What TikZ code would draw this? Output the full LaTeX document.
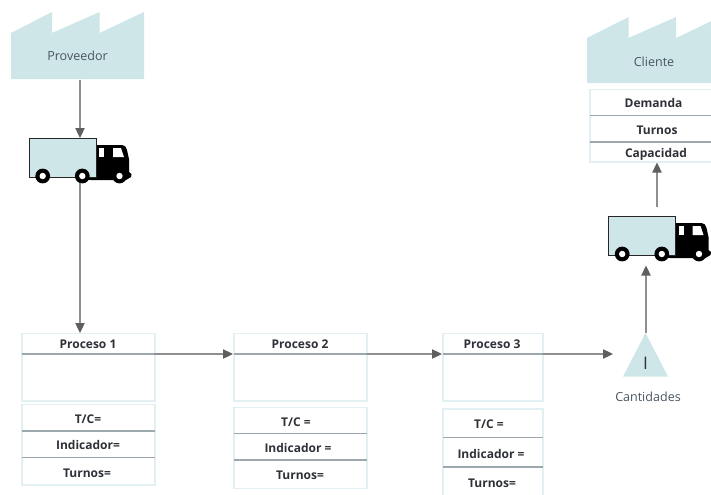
\documentclass[tikz,border=0pt]{standalone}
\usepackage{fontspec}
\setmainfont{Open Sans}
\usetikzlibrary{arrows.meta}
\definecolor{fillblue}{HTML}{CEE6E8}
\definecolor{edgeblue}{HTML}{E3F0F3}
\definecolor{rowline}{HTML}{9DA8AE}
\definecolor{arrowgray}{HTML}{5F5F5F}
\definecolor{labelgray}{HTML}{4A5560}
\definecolor{boldtext}{HTML}{2E3238}
\tikzset{
  x=0.75pt,y=-0.75pt,
  factory/.style={fill=fillblue,draw=none},
  boxframe/.style={draw=edgeblue,line width=0.9pt,fill=white},
  rowrule/.style={draw=rowline,line width=0.8pt},
  link/.style={draw=arrowgray!70,line width=0.8pt,-{Triangle[length=7.5pt,width=7pt,color=arrowgray]}},
  plainlabel/.style={font=\fontsize{9.4pt}{11pt}\selectfont,text=labelgray,inner sep=0pt,text height=6.8pt,text depth=0pt},
  rowlabel/.style={font=\fontsize{9pt}{11pt}\selectfont\bfseries,text=boldtext,inner sep=0pt,text height=6.5pt,text depth=0pt,yshift=-0.4pt},
  pics/truck/.style={code={
    % cab
    \fill[black] (67,7) -- (93,7) .. controls (96,7) and (97,9) .. (98,12) -- (100,21) -- (100,34) -- (102.5,36) -- (102,39) -- (97,42) -- (62,42) -- (50,41) -- (67,37) -- cycle;
    \fill[white] (70,10) rectangle (75,19);
    \fill[white] (84,10) -- (92,10) -- (95,19) -- (84,19) -- cycle;
    % box
    \draw[fill=fillblue,draw=black!85,line width=0.7pt] (0,0) rectangle (67,39);
    % wheels
    \foreach \wx in {13.7,53.3,90.5}{
      \fill[black] (\wx,38) circle[radius=7.4];
      \fill[white] (\wx,38) circle[radius=3.2];
    }
  }}
}
\begin{document}
\begin{tikzpicture}
\useasboundingbox (0,0) rectangle (711,494);
\clip (0,0) rectangle (711,494);
% factories
\fill[factory] (11,79) -- (11,33) -- (52,12) -- (52,33) -- (99.5,12) -- (99.5,33) -- (144,12) -- (144,79) -- cycle;
\node[plainlabel] (prov) at (77.5,56) {Proveedor};
\coordinate (provbottom) at (80,79.5);
\fill[factory] (587,83) -- (587,38) -- (628.5,17) -- (628.5,38) -- (676,17) -- (676,38) -- (720,17) -- (720,83) -- cycle;
\node[plainlabel] (cli) at (654,61.5) {Cliente};
% client table
\draw[boxframe] (590,89.5) rectangle (720,162);
\draw[rowrule] (590,115.5) -- (720,115.5);
\draw[rowrule] (590,142) -- (720,142);
\node[rowlabel] (dem) at (653.5,103) {Demanda};
\node[rowlabel] (tur) at (657,129.5) {Turnos};
\node[rowlabel] (cap) at (656,153) {Capacidad};
\coordinate (captop) at (657,162.5);
\coordinate (capfoot) at (657,207);
% trucks
\pic at (29,138) {truck};
\coordinate (t1top) at (80,138);
\coordinate (t1bot) at (80,183);
\pic at (608.5,216) {truck};
\coordinate (t2bot) at (646,265.5);
% process 1
\draw[boxframe] (22,333.5) rectangle (155,401);
\draw[rowrule] (22,354) -- (155,354);
\node[rowlabel] (p1) at (88,344) {Proceso 1};
\draw[boxframe] (22,404.5) rectangle (155,485);
\draw[rowrule] (22,431) -- (155,431);
\draw[rowrule] (22,457.5) -- (155,457.5);
\node[rowlabel] (p1a) at (88,418.5) {T/C=};
\node[rowlabel] (p1b) at (88,445) {Indicador=};
\node[rowlabel] (p1c) at (87,472.5) {Turnos=};
\coordinate (p1top) at (80,333);
\coordinate (p1r) at (154,354);
% process 2
\draw[boxframe] (234,333.5) rectangle (367,401);
\draw[rowrule] (234,354) -- (367,354);
\node[rowlabel] (p2) at (300,344) {Proceso 2};
\draw[boxframe] (234,407.5) rectangle (367,488.5);
\draw[rowrule] (234,433.5) -- (367,433.5);
\draw[rowrule] (234,460) -- (367,460);
\node[rowlabel] (p2a) at (296,421.5) {T/C =};
\node[rowlabel] (p2b) at (298,448) {Indicador =};
\node[rowlabel] (p2c) at (300,475) {Turnos=};
\coordinate (p2l) at (233,354);
\coordinate (p2r) at (367,354);
% process 3
\draw[boxframe] (443,333.5) rectangle (543,401);
\draw[rowrule] (443,354) -- (543,354);
\node[rowlabel] (p3) at (492,344) {Proceso 3};
\draw[boxframe] (443,409) rectangle (543,500);
\draw[rowrule] (443,437.5) -- (543,437.5);
\draw[rowrule] (443,467) -- (543,467);
\node[rowlabel] (p3a) at (489,424) {T/C =};
\node[rowlabel] (p3b) at (491,454) {Indicador =};
\node[rowlabel] (p3c) at (492,483) {Turnos=};
\coordinate (p3l) at (442,354);
\coordinate (p3r) at (543,354);
\coordinate (invl) at (613,354);
% inventory triangle
\fill[fillblue] (645.5,333) -- (668,376.5) -- (623,376.5) -- cycle;
\node[plainlabel,text=boldtext,font=\fontsize{13pt}{14pt}\selectfont,text height=9.5pt] (inv) at (645.5,363.5) {I};
\node[plainlabel] (cant) at (648,397) {Cantidades};
\coordinate (invtop) at (646,333);
% connectors
\draw[link] (provbottom) -- (t1top);
\draw[link] (t1bot) -- (p1top);
\draw[link] (p1r) -- (p2l);
\draw[link] (p2r) -- (p3l);
\draw[link] (p3r) -- (invl);
\draw[link] (invtop) -- (t2bot);
\draw[link] (capfoot) -- (captop);
\end{tikzpicture}
\end{document}
